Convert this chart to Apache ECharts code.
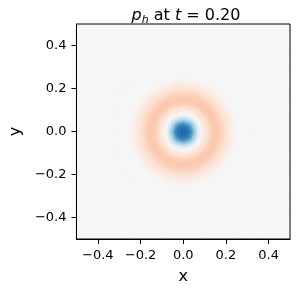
<!DOCTYPE html>
<html><head><meta charset="utf-8">
<script src="https://cdn.jsdelivr.net/npm/echarts@6/dist/echarts.min.js"></script>
<style>html,body{margin:0;padding:0;background:#fff}#c{width:299px;height:290px}</style>
</head><body><div id="c"></div>
<script>
// Tick positions and labels
const tickValues = [-0.4, -0.2, 0, 0.2, 0.4];
const tickLabels = ['\u22120.4', '\u22120.2', '0.0', '0.2', '0.4'];
// Radial profile of p_h (radius -> value, colour scale -1..1)
const radii = [0.000,0.005,0.010,0.015,0.020,0.025,0.030,0.035,0.040,0.045,
               0.050,0.055,0.060,0.065,0.070,0.075,0.080,0.085,0.090,0.095,
               0.100,0.110,0.120,0.130,0.140,0.150,0.160,0.170,0.180,0.190,
               0.200,0.210,0.220,0.230,0.240,0.250,0.260,0.270,0.280,0.290,
               0.300,0.310,0.320,0.330,0.340,0.350,0.360,0.370,0.380,0.390,
               0.400,0.410,0.420,0.430,0.440,0.450,0.460,0.470,0.480,0.490,
               0.500,0.510,0.520,0.530,0.540,0.550,0.560,0.570,0.580,0.590,
               0.600,0.610,0.620,0.630,0.640,0.650,0.660,0.670,0.680,0.690,
               0.700,0.710];
const profile = [-0.80,-0.80,-0.79,-0.77,-0.75,-0.72,-0.68,-0.63,-0.57,-0.50,
                 -0.43,-0.35,-0.28,-0.21,-0.14,-0.08,-0.03,0.01,0.04,0.07,
                 0.10,0.15,0.20,0.24,0.26,0.27,0.265,0.25,0.225,0.19,
                 0.155,0.12,0.09,0.06,0.035,0.016,0.004,-0.008,-0.012,-0.002,
                 0.008,0.006,-0.010,-0.014,-0.006,0.006,0.006,-0.008,-0.012,-0.004,
                 0.005,0.004,-0.009,-0.011,-0.002,0.005,0.002,-0.009,-0.009,0.000,
                 0.004,0.000,-0.008,-0.007,0.001,0.003,-0.002,-0.007,-0.005,0.001,
                 0.002,-0.004,-0.006,-0.002,0.002,0.001,-0.004,-0.005,0.000,0.001,
                 -0.002,-0.003];
const colorStops = ['#053061','#2166ac','#4393c3','#92c5de','#d1e5f0','#f7f7f7',
                    '#fddbc7','#f4a582','#d6604d','#b2182b','#67001f'];

const N = 140, lo = -0.5, hi = 0.5, step = (hi - lo) / N;
function nearestIndex(r) {
  let best = 0, bd = Infinity;
  for (let k = 0; k < radii.length; k++) {
    const d = Math.abs(radii[k] - r);
    if (d < bd) { bd = d; best = k; }
  }
  return best;
}
const cells = [];
for (let i = 0; i < N; i++) {
  for (let j = 0; j < N; j++) {
    const x = lo + (i + 0.5) * step, y = lo + (j + 0.5) * step;
    const r = Math.sqrt(x * x + y * y);
    cells.push([x, y, profile[nearestIndex(r)]]);
  }
}

const font = 'DejaVu Sans';
const chart = echarts.init(document.getElementById('c'), null, {renderer: 'canvas'});
chart.setOption({
  animation: false,
  backgroundColor: '#fff',
  title: {
    text: '{i|p}{s|h}{n| at }{i|t}{n| = 0.20}',
    left: 181, top: 1, textAlign: 'center',
    textStyle: {
      fontWeight: 'normal',
      rich: {
        i: {fontFamily: font, fontStyle: 'italic', fontWeight: 'normal', fontSize: 16, color: '#000', lineHeight: 20},
        n: {fontFamily: font, fontWeight: 'normal', fontSize: 16, color: '#000', lineHeight: 20},
        s: {fontFamily: font, fontStyle: 'italic', fontWeight: 'normal', fontSize: 11, color: '#000', lineHeight: 11, padding: [10, 0, 0, 0], verticalAlign: 'bottom'}
      }
    }
  },
  grid: {left: 72, right: 9, top: 24, bottom: 48, show: true, z: 10, borderColor: '#000', borderWidth: 1, backgroundColor: 'transparent', containLabel: false},
  visualMap: {type: 'continuous', show: false, min: -1, max: 1, dimension: 2, seriesIndex: 0, inRange: {color: colorStops}},
  xAxis: {
    type: 'value', min: lo, max: hi, z: 10,
    name: 'x', nameLocation: 'middle', nameGap: 30,
    nameTextStyle: {fontFamily: font, fontSize: 16, color: '#000'},
    axisLine: {show: true, onZero: false, lineStyle: {color: '#000', width: 1}},
    axisTick: {show: true, length: 5, customValues: tickValues, lineStyle: {color: '#000', width: 1}},
    axisLabel: {customValues: tickValues, margin: 10, fontFamily: font, fontSize: 13, color: '#000',
      formatter: v => tickLabels[tickValues.findIndex(t => Math.abs(t - v) < 1e-9)]},
    splitLine: {show: false}
  },
  yAxis: {
    type: 'value', min: lo, max: hi, z: 10,
    name: 'y', nameLocation: 'middle', nameGap: 50, nameRotate: 90,
    nameTextStyle: {fontFamily: font, fontSize: 16, color: '#000'},
    axisLine: {show: true, onZero: false, lineStyle: {color: '#000', width: 1}},
    axisTick: {show: true, length: 5, customValues: tickValues, lineStyle: {color: '#000', width: 1}},
    axisLabel: {customValues: tickValues, margin: 10, fontFamily: font, fontSize: 13, color: '#000',
      formatter: v => tickLabels[tickValues.findIndex(t => Math.abs(t - v) < 1e-9)]},
    splitLine: {show: false}
  },
  series: [{
    type: 'custom',
    clip: true,
    data: cells,
    encode: {x: 0, y: 1},
    renderItem: function (params, api) {
      const x = api.value(0), y = api.value(1), h = step / 2;
      const p0 = api.coord([x - h, y + h]);
      const p1 = api.coord([x + h, y - h]);
      return {type: 'rect',
        shape: {x: p0[0], y: p0[1], width: p1[0] - p0[0] + 0.6, height: p1[1] - p0[1] + 0.6},
        style: {fill: api.visual('color')}};
    }
  }]
});
</script>
</body></html>
